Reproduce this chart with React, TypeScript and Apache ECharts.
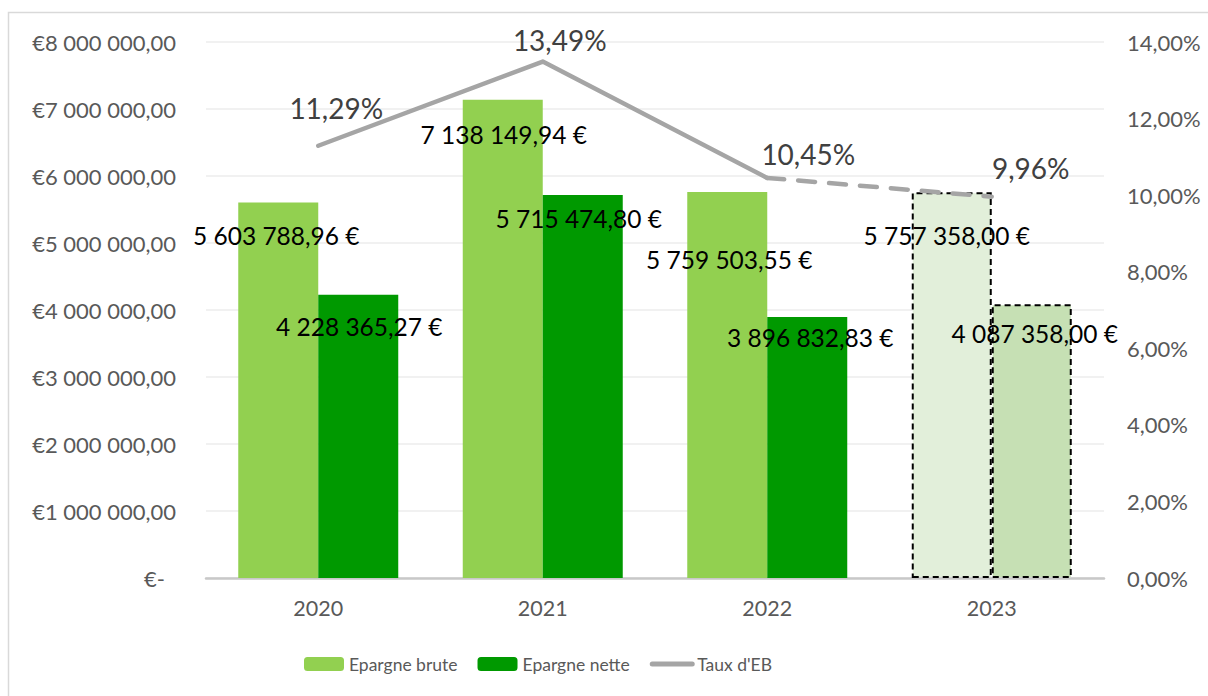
import React, { useEffect, useRef } from "react";
import * as echarts from "echarts";

const categories = ["2020", "2021", "2022", "2023"];
const epargneBrute = [5603788.96, 7138149.94, 5759503.55, 5757358.0];
const epargneNette = [4228365.27, 5715474.8, 3896832.83, 4087358.0];
const tauxEB = [11.29, 13.49, 10.45, 9.96];
const isForecast = [false, false, false, true];

// label placement tweaks (style, not data)
const bruteLabelOffsets = [[-2, 19], [1, 21], [2, 53], [-5, 29]];
const netteLabelOffsets = [[1, 18], [-4, 9], [3, 7], [3, 15]];
const tauxLabelOffsets = [[18, -38], [17, -22], [41, -24], [39, -29]];

const FONT = "Lato";
const GREY_TEXT = "#595959";

function fmtEuro(v: number): string {
  const [i, d] = v.toFixed(2).split(".");
  return i.replace(/\B(?=(\d{3})+(?!\d))/g, " ") + "," + d + " €";
}
function fmtAxisEuro(v: number): string {
  if (v === 0) return "{z|€-}";
  const i = Math.round(v).toString().replace(/\B(?=(\d{3})+(?!\d))/g, " ");
  return "€" + i + ",00";
}
function fmtPct(v: number): string {
  return v.toFixed(2).replace(".", ",") + "%";
}

export default function App() {
  const ref = useRef<HTMLDivElement>(null);
  useEffect(() => {
    if (!ref.current) return;
    const chart = echarts.init(ref.current, undefined, { renderer: "svg" });

    const barLabel = {
      show: true,
      position: "insideTop",
      distance: 0,
      color: "#000",
      fontSize: 24.5,
      lineHeight: 28,
      fontFamily: FONT,
      formatter: (p: any) => fmtEuro(p.value),
    };

    const forecastBorder = { borderColor: "#000", borderWidth: 2, borderType: [6, 4] };
    const bruteData = epargneBrute.map((v, i) => ({
      value: v,
      label: { offset: bruteLabelOffsets[i] },
      itemStyle: isForecast[i] ? { color: "#E2EFDA", ...forecastBorder } : undefined,
    }));
    const netteData = epargneNette.map((v, i) => ({
      value: v,
      label: { offset: netteLabelOffsets[i] },
      itemStyle: isForecast[i] ? { color: "#C6E0B4", ...forecastBorder } : undefined,
    }));

    const lastActual = isForecast.indexOf(true) - 1;
    const solidData = tauxEB.map((v, i) =>
      i <= lastActual ? { value: v, label: { show: true, offset: tauxLabelOffsets[i] } } : "-"
    );
    const dashedData = tauxEB.map((v, i) =>
      i >= lastActual
        ? { value: v, label: { show: isForecast[i], offset: tauxLabelOffsets[i] } }
        : "-"
    );
    const lineLabel = {
      position: "inside",
      color: "#404040",
      fontSize: 28,
      fontFamily: FONT,
      formatter: (p: any) => fmtPct(p.value),
    };

    chart.setOption({
      animation: false,
      backgroundColor: "#fff",
      textStyle: { fontFamily: FONT },
      graphic: [
        {
          type: "rect",
          silent: true,
          shape: { x: 8.5, y: 12.5, width: 1400, height: 900 },
          style: { fill: "none", stroke: "#D9D9D9", lineWidth: 1.5 },
        },
      ],
      grid: { left: 206, right: 104, top: 42, bottom: 118, containLabel: false },
      legend: {
        data: [
          "Epargne brute",
          "Epargne nette",
          {
            name: "Taux d'EB",
            itemStyle: { opacity: 0 },
            lineStyle: { width: 5, cap: "round", color: "#A5A5A5" },
          },
        ],
        left: 304,
        top: 655,
        itemWidth: 40,
        itemHeight: 14,
        itemGap: 20,
        padding: 0,
        textStyle: { fontSize: 17.5, color: GREY_TEXT, fontFamily: FONT },
      },
      xAxis: {
        type: "category",
        data: categories,
        axisTick: { show: false },
        axisLine: { lineStyle: { color: "#C8C8C8", width: 2.5 } },
        axisLabel: { color: GREY_TEXT, fontSize: 21.5, margin: 19, fontFamily: FONT },
      },
      yAxis: [
        {
          type: "value",
          min: 0,
          max: 8000000,
          interval: 1000000,
          axisLine: { show: false },
          axisTick: { show: false },
          splitLine: { lineStyle: { color: "#EDEDED", width: 1.5 } },
          axisLabel: {
            color: GREY_TEXT,
            fontSize: 22,
            margin: 30,
            fontFamily: FONT,
            formatter: fmtAxisEuro,
            rich: { z: { color: GREY_TEXT, fontSize: 22, fontFamily: FONT, padding: [0, 11, 0, 0] } },
          },
        },
        {
          type: "value",
          min: 0,
          max: 14,
          interval: 2,
          position: "right",
          axisLine: { show: false },
          axisTick: { show: false },
          splitLine: { show: false },
          axisLabel: {
            color: GREY_TEXT,
            fontSize: 22,
            margin: 23,
            fontFamily: FONT,
            formatter: fmtPct,
          },
        },
      ],
      series: [
        {
          name: "Epargne brute",
          type: "bar",
          barWidth: 80,
          barGap: "0%",
          itemStyle: { color: "#92D050" },
          label: barLabel,
          data: bruteData,
          z: 2,
        },
        {
          name: "Epargne nette",
          type: "bar",
          barWidth: 80,
          barGap: "0%",
          itemStyle: { color: "#009900" },
          label: barLabel,
          data: netteData,
          z: 2,
        },
        {
          name: "Taux d'EB",
          type: "line",
          yAxisIndex: 1,
          symbol: "circle",
          symbolSize: 1,
          itemStyle: { color: "#A5A5A5" },
          lineStyle: { color: "#A5A5A5", width: 4.5, cap: "round", join: "round" },
          label: lineLabel,
          data: solidData,
          z: 5,
        },
        {
          name: "Taux d'EB prévision",
          type: "line",
          yAxisIndex: 1,
          symbol: "circle",
          symbolSize: 1,
          itemStyle: { color: "#A5A5A5" },
          lineStyle: { color: "#A5A5A5", width: 4.5, type: [17, 14], cap: "round" },
          label: lineLabel,
          data: dashedData,
          z: 5,
        },
      ],
    });
    return () => chart.dispose();
  }, []);
  return (
    <div
      ref={ref}
      style={{ position: "fixed", left: 0, top: 0, width: 1208, height: 696 }}
    />
  );
}
